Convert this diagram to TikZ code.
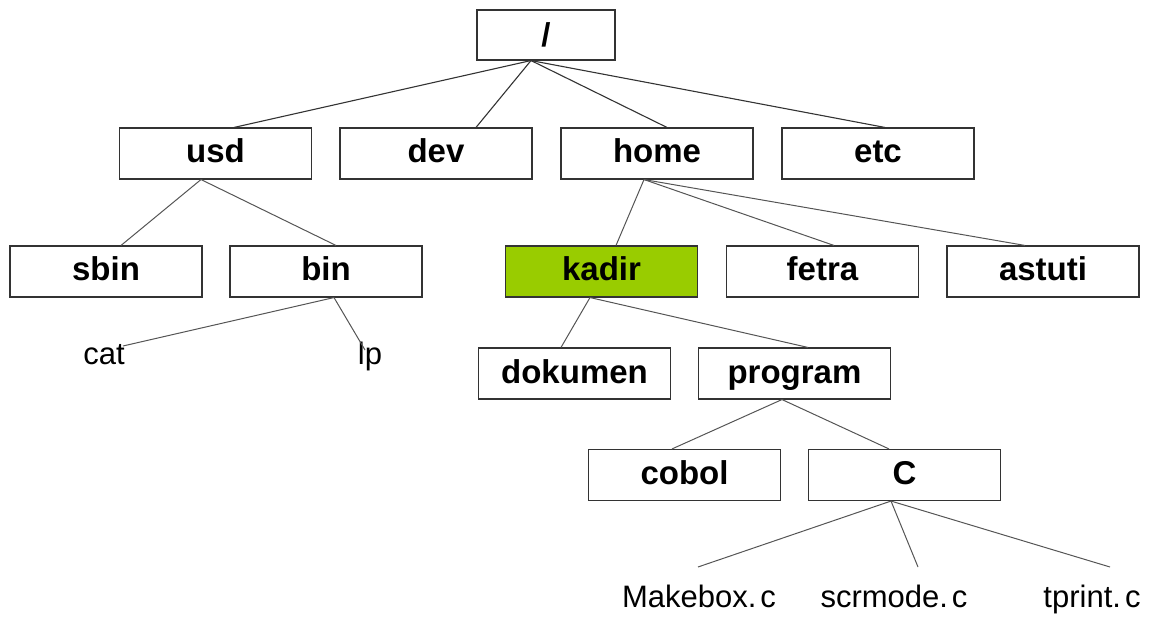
\documentclass[tikz,border=0pt]{standalone}
\usepackage{fontspec}
\setmainfont{Liberation Sans}
\definecolor{kgreen}{HTML}{99CC00}
\definecolor{boxline}{HTML}{333333}
\definecolor{lineA}{HTML}{333333}
\definecolor{lineB}{HTML}{555555}
\begin{document}
\begin{tikzpicture}[x=1pt,y=-1pt,
  dirbox/.style={draw=boxline,line width=1.1pt,fill=white,minimum width=192pt,minimum height=51pt,inner sep=0pt,
    text height=25pt,text depth=6pt,font=\bfseries\fontsize{33}{40}\selectfont},
  leaf/.style={inner sep=0pt,text height=22pt,text depth=6pt,font=\fontsize{31}{36}\selectfont},
  linkA/.style={draw=lineA,line width=1.1pt},
  linkB/.style={draw=lineB,line width=1pt}]
\useasboundingbox (0,0) rectangle (1157,620);
% nodes
\node[dirbox,minimum width=138pt,minimum height=50pt,text depth=2pt] (root) at (546,35) {/};
\node[dirbox] (usd) at (215.5,153.5) {usd};
\node[dirbox] (dev) at (436,153.5) {dev};
\node[dirbox] (home) at (657,153.5) {home};
\node[dirbox] (etc) at (878,153.5) {etc};
\node[dirbox] (sbin) at (106,271.5) {sbin};
\node[dirbox] (bin) at (326,271.5) {bin};
\node[dirbox,fill=kgreen] (kadir) at (601.5,271.5) {kadir};
\node[dirbox] (fetra) at (822.5,271.5) {fetra};
\node[dirbox] (astuti) at (1043,271.5) {astuti};
\node[dirbox] (dokumen) at (574.5,373.5) {dokumen};
\node[dirbox] (program) at (794.5,373.5) {program};
\node[dirbox] (cobol) at (684.5,475) {cobol};
\node[dirbox] (C) at (904.5,475) {C};
\node[leaf] (cat) at (104,357) {cat};
\node[leaf] (lp) at (370,357) {lp};
\node[leaf] (makebox) at (699,599) {Makebox.\kern4pt c};
\node[leaf] (scrmode) at (894,599) {scrmode.\kern4pt c};
\node[leaf] (tprint) at (1092,599) {tprint.\kern4pt c};
% free ends
\coordinate (catend) at (123,346);
\coordinate (lpend) at (365,350);
\coordinate (mkend) at (698,567);
\coordinate (scend) at (918,567);
\coordinate (tpend) at (1110,567);
% connectors
\draw[linkA] ([xshift=-15pt]root.south) -- ([xshift=18.5pt]usd.north);
\draw[linkA] ([xshift=-15pt]root.south) -- ([xshift=40pt]dev.north);
\draw[linkA] ([xshift=-15pt]root.south) -- ([xshift=10pt]home.north);
\draw[linkA] ([xshift=-15pt]root.south) -- ([xshift=7pt]etc.north);
\draw[linkB] ([xshift=-14.5pt]usd.south) -- ([xshift=15pt]sbin.north);
\draw[linkB] ([xshift=-14.5pt]usd.south) -- ([xshift=10pt]bin.north);
\draw[linkB] ([xshift=8pt]bin.south) -- (catend);
\draw[linkB] ([xshift=8pt]bin.south) -- (lpend);
\draw[linkB] ([xshift=-13pt]home.south) -- ([xshift=14.5pt]kadir.north);
\draw[linkB] ([xshift=-13pt]home.south) -- ([xshift=11.5pt]fetra.north);
\draw[linkB] ([xshift=-13pt]home.south) -- ([xshift=-18pt]astuti.north);
\draw[linkB] ([xshift=-11.5pt]kadir.south) -- ([xshift=-13.5pt]dokumen.north);
\draw[linkB] ([xshift=-11.5pt]kadir.south) -- ([xshift=13.5pt]program.north);
\draw[linkB] ([xshift=-12.5pt]program.south) -- ([xshift=-12.5pt]cobol.north);
\draw[linkB] ([xshift=-12.5pt]program.south) -- ([xshift=-15.5pt]C.north);
\draw[linkB] ([xshift=-13.5pt]C.south) -- (mkend);
\draw[linkB] ([xshift=-13.5pt]C.south) -- (scend);
\draw[linkB] ([xshift=-13.5pt]C.south) -- (tpend);
\end{tikzpicture}
\end{document}
